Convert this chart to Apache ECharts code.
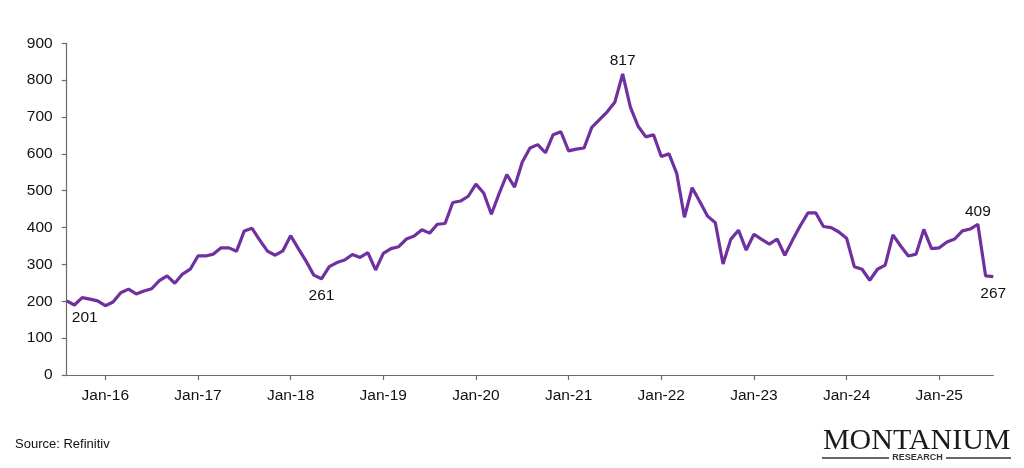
<!DOCTYPE html>
<html>
<head>
<meta charset="utf-8">
<script src="https://cdn.jsdelivr.net/npm/echarts@6/dist/echarts.min.js"></script>
<style>
html,body{margin:0;padding:0;background:#fff;}
#chart{width:1024px;height:468px;}
</style>
</head>
<body>
<div id="chart"></div>
<script>
// Monthly categories Aug-15 .. Aug-25
var monthNames = ['Jan','Feb','Mar','Apr','May','Jun','Jul','Aug','Sep','Oct','Nov','Dec'];
var categories = [];
(function(){
  var y = 2015, m = 7;
  while (y < 2025 || (y === 2025 && m <= 7)) {
    categories.push(monthNames[m] + '-' + String(y).slice(2));
    m++; if (m === 12) { m = 0; y++; }
  }
})();

var values = [
  201,190,210,206,201,
  188,198,223,233,220,228,234,256,269,249,274,287,
  323,323,328,345,345,336,391,398,366,336,325,337,
  378,343,309,271,261,294,305,312,327,319,332,285,
  330,343,348,369,377,394,385,409,411,468,472,485,
  518,494,436,492,544,510,578,616,625,603,652,660,
  608,613,616,672,693,714,741,817,727,675,646,652,
  593,600,547,428,508,470,431,413,301,368,393,339,
  382,368,355,369,325,366,405,440,440,403,400,388,
  371,294,287,257,287,298,380,350,323,328,395,343,
  345,361,369,391,396,409,269,267
];

var yTicks = [0,100,200,300,400,500,600,700,800,900];

// Annotated points: category, label position
var annotated = [
  {cat:'Aug-15', pos:'bottom', offset:[18,0]},
  {cat:'May-18', pos:'bottom', offset:[0,0]},
  {cat:'Aug-21', pos:'top', offset:[0,0]},
  {cat:'Jun-25', pos:'top', offset:[0,0]},
  {cat:'Aug-25', pos:'bottom', offset:[0,0]}
];

var markData = annotated.map(function(a){
  var i = categories.indexOf(a.cat);
  return {coord: [a.cat, values[i]], value: values[i],
          label: {position: a.pos, offset: a.offset, distance: a.pos === 'top' ? 4 : 8}};
});

var font = 'Liberation Sans, Arial, sans-serif';
var chart = echarts.init(document.getElementById('chart'), null, {renderer:'canvas'});
chart.setOption({
  animation: false,
  backgroundColor: '#ffffff',
  grid: {left: 66.7, right: 30.7, top: 43.3, bottom: 93},
  xAxis: {
    type: 'category',
    data: categories,
    boundaryGap: false,
    axisLine: {show: true, lineStyle: {color: '#6b6b6b', width: 1.2}},
    axisTick: {show: true, length: 5, lineStyle: {color: '#6b6b6b', width: 1.2},
      interval: function(i, v){ return v.indexOf('Jan') === 0; }},
    axisLabel: {
      interval: function(i, v){ return v.indexOf('Jan') === 0; },
      color: '#111', fontFamily: font, fontSize: 15.5, margin: 13
    },
    splitLine: {show: false}
  },
  yAxis: {
    type: 'value',
    min: yTicks[0], max: yTicks[yTicks.length-1], interval: 100,
    axisLine: {show: true, lineStyle: {color: '#6b6b6b', width: 1.2}},
    axisTick: {show: true, length: 5, lineStyle: {color: '#6b6b6b', width: 1.2}},
    axisLabel: {color: '#111', fontFamily: font, fontSize: 15.5, margin: 14},
    splitLine: {show: false}
  },
  series: [{
    type: 'line',
    data: values,
    showSymbol: false,
    symbol: 'none',
    lineStyle: {color: '#7030A0', width: 3.2},
    itemStyle: {color: '#7030A0'},
    emphasis: {disabled: true},
    markPoint: {
      symbol: 'circle',
      symbolSize: 2,
      itemStyle: {color: 'rgba(0,0,0,0)'},
      label: {show: true, color: '#111', fontFamily: font, fontSize: 15.5},
      data: markData,
      silent: true
    }
  }],
  graphic: [
    {type: 'text', left: 15, top: 438, style: {text: 'Source: Refinitiv', fill: '#111', font: '13px ' + font}},
    {type: 'text', x: 916.7, y: 441, style: {text: 'MONTANIUM', fill: '#1a1a1a', font: '30px "Liberation Serif", "Times New Roman", serif', textAlign: 'center', textVerticalAlign: 'middle'}},
    {type: 'text', x: 917.5, y: 458, style: {text: 'RESEARCH', fill: '#333', font: 'bold 9px ' + font, textAlign: 'center', textVerticalAlign: 'middle'}},
    {type: 'line', shape: {x1: 822, y1: 458, x2: 889, y2: 458}, style: {stroke: '#333', lineWidth: 1.5}},
    {type: 'line', shape: {x1: 946, y1: 458, x2: 1011, y2: 458}, style: {stroke: '#333', lineWidth: 1.5}}
  ]
});
</script>
</body>
</html>
